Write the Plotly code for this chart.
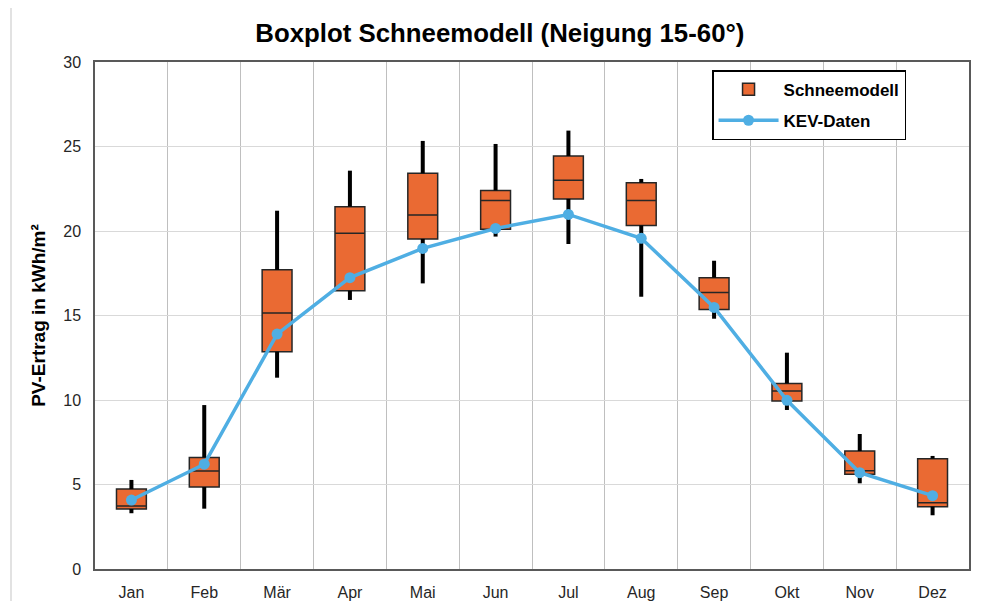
import plotly.graph_objects as go

months = ["Jan", "Feb", "Mär", "Apr", "Mai", "Jun", "Jul", "Aug", "Sep", "Okt", "Nov", "Dez"]
whisker_low = [3.30, 3.57, 11.32, 15.92, 16.90, 19.67, 19.23, 16.11, 14.81, 9.41, 5.07, 3.18]
q1 = [3.55, 4.85, 12.86, 16.47, 19.53, 20.10, 21.90, 20.33, 15.36, 9.94, 5.60, 3.69]
median = [3.73, 5.80, 15.15, 19.86, 20.95, 21.80, 23.00, 21.80, 16.36, 10.53, 5.82, 3.92]
q3 = [4.73, 6.60, 17.70, 21.44, 23.41, 22.40, 24.44, 22.86, 17.24, 10.98, 6.98, 6.53]
whisker_high = [5.27, 9.70, 21.20, 23.57, 25.33, 25.15, 25.94, 23.08, 18.24, 12.80, 7.99, 6.69]
kev = [4.08, 6.20, 13.90, 17.24, 18.97, 20.15, 20.98, 19.57, 15.48, 9.98, 5.70, 4.34]

orange = "#EA6A33"
blue = "#4FAEE3"

# whisker segments: below the box and above the box
wx, wy = [], []
for m, lo, a, b, hi in zip(months, whisker_low, q1, q3, whisker_high):
    wx += [m, m, None, m, m, None]
    wy += [lo, a, None, b, hi, None]

fig = go.Figure()
fig.add_trace(go.Scatter(x=wx, y=wy, mode="lines", line=dict(color="black", width=4),
                         showlegend=False, hoverinfo="skip"))
fig.add_trace(go.Box(x=months, q1=q1, median=median, q3=q3,
                     lowerfence=q1, upperfence=q3,
                     name="<b>Schneemodell</b>", fillcolor=orange,
                     line=dict(color="#262626", width=1.5), width=0.41,
                     whiskerwidth=0, legendgroup="a", showlegend=True))
fig.add_trace(go.Scatter(x=months, y=kev, mode="lines+markers", name="<b>KEV-Daten</b>",
                         line=dict(color=blue, width=3.5), legendgroup="b",
                         marker=dict(color=blue, size=11)))

# page is offset by 8px body margin; figure sized accordingly
fig.update_layout(
    width=974, height=593,
    margin=dict(l=87, r=13, t=54, b=32),
    paper_bgcolor="white", plot_bgcolor="white",
    font=dict(family="Liberation Sans, Arial, sans-serif", color="#262626", size=16),
    title=dict(text="<b>Boxplot Schneemodell (Neigung 15-60°)</b>", x=0.505, xanchor="center",
               y=1 - 25 / 593, yanchor="middle", font=dict(size=25.8, color="black")),
    showlegend=True,
    legend=dict(x=0.706, y=0.984, xanchor="left", yanchor="top",
                bordercolor="black", borderwidth=1.5, bgcolor="white",
                font=dict(size=17, color="black"), itemwidth=60,
                traceorder="grouped", tracegroupgap=6),
    xaxis=dict(type="category", categoryorder="array", categoryarray=months,
               tickson="boundaries", showgrid=True, gridcolor="#BFBFBF", gridwidth=1,
               showline=True, linecolor="#595959", linewidth=1.5, mirror=True,
               ticks="", tickfont=dict(size=16, color="#262626"), ticklabelstandoff=8,
               range=[-0.5, 11.5], automargin=False),
    yaxis=dict(range=[0, 30], dtick=5, showgrid=True, gridcolor="#D9D9D9", gridwidth=1,
               showline=True, linecolor="#595959", linewidth=1.5, mirror=True,
               ticks="", zeroline=False, tickfont=dict(size=16, color="#262626"),
               ticklabelstandoff=9, automargin=False,
               title=dict(text="<b>PV-Ertrag in kWh/m²</b>", font=dict(size=19, color="black"),
                          standoff=13)),
    shapes=[dict(type="line", xref="paper", yref="paper",
                 x0=-84 / 874, x1=-84 / 874, y0=-32 / 507, y1=1 + 54 / 507,
                 line=dict(color="#D9D9D9", width=1.5))],
)

fig.write_html("out.html")
